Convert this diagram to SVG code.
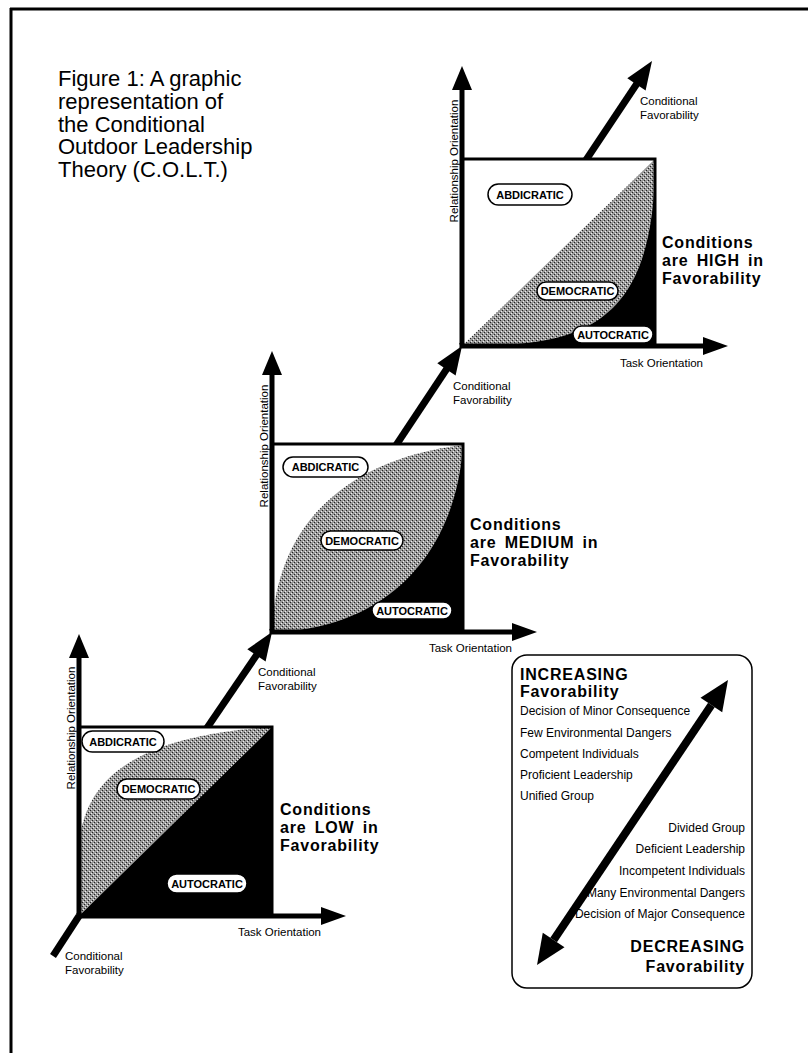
<svg xmlns="http://www.w3.org/2000/svg" width="808" height="1053" viewBox="0 0 808 1053">
<style>
text { font-family: "Liberation Sans", Arial, Helvetica, sans-serif; fill: #000; }
.ax { stroke: #000; stroke-width: 5; fill: none; }
.dg { stroke: #000; stroke-width: 7; fill: none; }
.box { fill: none; stroke: #000; stroke-width: 3; }
.pill { fill: #fff; stroke: #000; stroke-width: 1.5; }
.pt { font-size: 11px; font-weight: bold; text-anchor: middle; }
.lab { font-size: 11.5px; }
.big { font-size: 16px; font-weight: bold; letter-spacing: 0.8px; word-spacing: 3px; }
.title { font-size: 22px; }
.leg { font-size: 12px; }
.end { text-anchor: end; }
.mid { text-anchor: middle; }
.blk { fill: #000; }
.gry { fill: url(#stip); }
</style>
<defs>
<pattern id="stip" width="4" height="4" patternUnits="userSpaceOnUse">
<rect width="4" height="4" fill="#9a9a9a"/>
<rect x="0" y="0" width="1" height="1" fill="#222"/>
<rect x="2" y="2" width="1" height="1" fill="#222"/>
<rect x="1" y="3" width="1" height="1" fill="#eee"/>
<rect x="3" y="1" width="1" height="1" fill="#eee"/>
</pattern>
</defs>
<rect width="808" height="1053" fill="#fff"/>
<g id="frame">
<line x1="10" y1="9" x2="808" y2="9" stroke="#000" stroke-width="3"/>
<line x1="11" y1="8" x2="11" y2="1053" stroke="#000" stroke-width="3"/>
</g>
<g id="title" class="title">
<text x="58" y="86">Figure 1: A graphic</text>
<text x="58" y="108.75">representation of</text>
<text x="58" y="131.5">the Conditional</text>
<text x="58" y="154.25">Outdoor Leadership</text>
<text x="58" y="177">Theory (C.O.L.T.)</text>
</g>
<g id="connectors">
<line class="dg" x1="79" y1="916" x2="53" y2="956"/>
<line class="dg" x1="79" y1="916" x2="258" y2="653"/>
<polygon class="blk" points="272,632 265.6,661.4 247.3,649.2"/>
<line class="dg" x1="272" y1="632" x2="448" y2="367"/>
<polygon class="blk" points="462,346 455.6,375.4 437.3,363.2"/>
<line class="dg" x1="462" y1="346" x2="638" y2="82"/>
<polygon class="blk" points="652,61 645.6,90.4 627.3,78.2"/>
</g>
<g id="chart-low">
<rect x="79" y="727" width="193" height="189" fill="#fff"/>
<path class="gry" d="M79,916 L79,845 C85,770 150,735 272,727 Z"/>
<path class="blk" d="M79,916 L272,727 L272,916 Z"/>
<rect class="box" x="79" y="727" width="193" height="189"/>
<rect class="pill" x="82" y="731" width="82" height="21" rx="10.5"/>
<text class="pt" x="123" y="745.5">ABDICRATIC</text>
<rect class="pill" x="117" y="779" width="83" height="20" rx="10"/>
<text class="pt" x="158.5" y="793">DEMOCRATIC</text>
<rect class="pill" x="167" y="874" width="80" height="19" rx="9.5"/>
<text class="pt" x="207" y="887.5">AUTOCRATIC</text>
<line class="ax" x1="79" y1="918" x2="79" y2="654"/>
<polygon class="blk" points="79,634 69,658 89,658"/>
<line class="ax" x1="77" y1="916" x2="326" y2="916"/>
<polygon class="blk" points="346,916 321,907 321,925"/>
<text class="lab mid" transform="translate(75,728) rotate(-90)">Relationship Orientation</text>
<text class="lab end" x="321" y="936">Task Orientation</text>
<text class="lab" x="65" y="960">Conditional</text>
<text class="lab" x="65" y="974">Favorability</text>
<text class="big" x="280" y="815">Conditions</text>
<text class="big" x="280" y="833">are LOW in</text>
<text class="big" x="280" y="851">Favorability</text>
</g>
<g id="chart-medium">
<rect x="272" y="444" width="191" height="188" fill="#fff"/>
<path class="gry" d="M272,632 C275,530 340,460 463,445 C455,560 380,630 272,632 Z"/>
<path class="blk" d="M272,632 C380,630 455,560 463,445 L463,632 Z"/>
<rect class="box" x="272" y="444" width="191" height="188"/>
<rect class="pill" x="283" y="457" width="85" height="20" rx="10"/>
<text class="pt" x="325.5" y="471">ABDICRATIC</text>
<rect class="pill" x="321" y="531" width="82" height="19" rx="9.5"/>
<text class="pt" x="362" y="544.5">DEMOCRATIC</text>
<rect class="pill" x="372" y="602" width="80" height="17" rx="8.5"/>
<text class="pt" x="412" y="614.5">AUTOCRATIC</text>
<line class="ax" x1="272" y1="634" x2="272" y2="371"/>
<polygon class="blk" points="272,351 262,375 282,375"/>
<line class="ax" x1="270" y1="632" x2="517" y2="632"/>
<polygon class="blk" points="537,632 512,623 512,641"/>
<text class="lab mid" transform="translate(268,446) rotate(-90)">Relationship Orientation</text>
<text class="lab end" x="512" y="652">Task Orientation</text>
<text class="lab" x="258" y="676">Conditional</text>
<text class="lab" x="258" y="690">Favorability</text>
<text class="big" x="470" y="530">Conditions</text>
<text class="big" x="470" y="548">are MEDIUM in</text>
<text class="big" x="470" y="566">Favorability</text>
</g>
<g id="chart-high">
<rect x="462" y="159" width="193" height="187" fill="#fff"/>
<path class="gry" d="M462,346 L655,159 C655,330 580,346 462,346 Z"/>
<path class="blk" d="M462,346 C580,346 655,330 655,159 L655,346 Z"/>
<rect class="box" x="462" y="159" width="193" height="187"/>
<rect class="pill" x="488" y="184" width="84" height="21" rx="10.5"/>
<text class="pt" x="530" y="198.5">ABDICRATIC</text>
<rect class="pill" x="537" y="282" width="81" height="18" rx="9"/>
<text class="pt" x="577.5" y="295">DEMOCRATIC</text>
<rect class="pill" x="573" y="326" width="80" height="17" rx="8.5"/>
<text class="pt" x="613" y="338.5">AUTOCRATIC</text>
<line class="ax" x1="462" y1="348" x2="462" y2="86"/>
<polygon class="blk" points="462,66 452,90 472,90"/>
<line class="ax" x1="460" y1="346" x2="708" y2="346"/>
<polygon class="blk" points="728,346 703,337 703,355"/>
<text class="lab mid" transform="translate(458,161) rotate(-90)">Relationship Orientation</text>
<text class="lab end" x="703" y="367">Task Orientation</text>
<text class="lab" x="453" y="390">Conditional</text>
<text class="lab" x="453" y="404">Favorability</text>
<text class="lab" x="640" y="105">Conditional</text>
<text class="lab" x="640" y="119">Favorability</text>
<text class="big" x="662" y="248">Conditions</text>
<text class="big" x="662" y="266">are HIGH in</text>
<text class="big" x="662" y="284">Favorability</text>
</g>
<g id="legend">
<rect x="512" y="655" width="240" height="333" rx="15" fill="#fff" stroke="#000" stroke-width="1.5"/>
<line x1="553.6" y1="940" x2="711.4" y2="705" stroke="#000" stroke-width="8"/>
<polygon class="blk" points="728,680 722.2,712.2 700.5,697.8"/>
<polygon class="blk" points="537,965 564.5,947.3 542.8,932.8"/>
<text class="big" x="520" y="680">INCREASING</text>
<text class="big" x="520" y="697">Favorability</text>
<text class="leg" x="520" y="715">Decision of Minor Consequence</text>
<text class="leg" x="520" y="737">Few Environmental Dangers</text>
<text class="leg" x="520" y="758">Competent Individuals</text>
<text class="leg" x="520" y="779">Proficient Leadership</text>
<text class="leg" x="520" y="800">Unified Group</text>
<text class="leg end" x="745" y="832">Divided Group</text>
<text class="leg end" x="745" y="853">Deficient Leadership</text>
<text class="leg end" x="745" y="875">Incompetent Individuals</text>
<text class="leg end" x="745" y="897">Many Environmental Dangers</text>
<text class="leg end" x="745" y="918">Decision of Major Consequence</text>
<text class="big end" x="745" y="952">DECREASING</text>
<text class="big end" x="745" y="972">Favorability</text>
</g>
</svg>
